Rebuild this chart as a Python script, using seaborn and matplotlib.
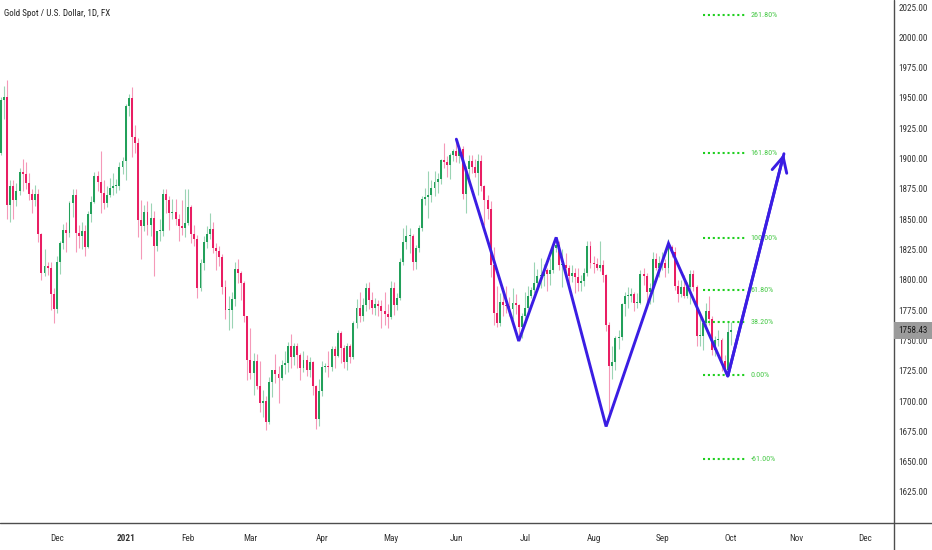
import numpy as np
import pandas as pd
import matplotlib
matplotlib.use("Agg")
import matplotlib.pyplot as plt
from matplotlib.lines import Line2D
from matplotlib.patches import Rectangle
import seaborn as sns

# ---------------- data ----------------
START_DATE = "2020-11-05"
HOLIDAYS = ["2020-12-25", "2021-01-01"]

OPEN = [1905, 1948, 1951, 1862, 1877, 1866, 1873, 1889, 1887, 1880, 1871, 1866, 1871, 1838, 1806, 1811, 1810, 1788,
        1776, 1815, 1830, 1841, 1839, 1863, 1870, 1839, 1836, 1840, 1827, 1854, 1864, 1886, 1881, 1872, 1863, 1870, 1876, 1877, 1877, 1893,
        1898, 1943, 1950, 1918, 1913, 1849, 1844, 1856, 1845, 1851, 1828, 1840, 1840, 1871, 1866, 1855, 1856, 1850, 1844, 1843,
        1847, 1860, 1838, 1834, 1793, 1814, 1831, 1838, 1842, 1826, 1824, 1819, 1794, 1775, 1775, 1784, 1809, 1806, 1797, 1770,
        1734, 1723, 1733, 1712, 1698, 1700, 1683, 1716, 1726, 1722, 1719, 1730, 1731, 1745, 1736, 1745, 1738, 1727, 1734, 1726, 1732, 1712, 1685,
        1708, 1728, 1729, 1728, 1743, 1737, 1756, 1744, 1732, 1745, 1736, 1764, 1777, 1770, 1779, 1793, 1783, 1777, 1780, 1778, 1774, 1772,
        1769, 1793, 1779, 1785, 1815, 1831, 1836, 1836, 1815, 1826, 1843, 1867, 1868, 1870, 1876, 1881, 1883, 1899, 1897, 1895, 1903,
        1906, 1902, 1908, 1871, 1891, 1898, 1893, 1888, 1898, 1877, 1866, 1858, 1812, 1773, 1764, 1782, 1779, 1778, 1776, 1781, 1779, 1761,
        1770, 1777, 1787, 1792, 1797, 1803, 1803, 1808, 1805, 1808, 1826, 1829, 1812, 1812, 1810, 1803, 1806, 1802, 1797, 1799, 1806, 1828,
        1814, 1813, 1810, 1812, 1804, 1763, 1729, 1732, 1752, 1753, 1780, 1787, 1787, 1788, 1781, 1781, 1805, 1803, 1790, 1793, 1817, 1810,
        1814, 1814, 1810, 1827, 1823, 1795, 1788, 1794, 1787, 1794, 1805, 1794, 1754, 1754, 1764, 1774, 1768, 1742, 1750, 1750, 1733, 1726,
        1757]
HIGH = [1951, 1960, 1965, 1882, 1882, 1880, 1892, 1900, 1897, 1888, 1875, 1878, 1875, 1839, 1825, 1815, 1815, 1793,
        1820, 1832, 1846, 1848, 1865, 1875, 1875, 1845, 1848, 1845, 1857, 1869, 1889, 1890, 1906, 1882, 1877, 1884, 1888, 1883, 1897, 1901,
        1945, 1953, 1959, 1928, 1917, 1866, 1862, 1865, 1863, 1857, 1840, 1850, 1875, 1875, 1869, 1867, 1867, 1854, 1866, 1875,
        1875, 1862, 1845, 1837, 1817, 1836, 1844, 1855, 1848, 1830, 1828, 1821, 1800, 1787, 1790, 1815, 1817, 1807, 1799, 1770,
        1760, 1740, 1739, 1733, 1709, 1704, 1720, 1724, 1739, 1729, 1734, 1741, 1749, 1755, 1748, 1748, 1740, 1741, 1738, 1736, 1733, 1713, 1718,
        1733, 1731, 1741, 1745, 1745, 1759, 1758, 1746, 1748, 1747, 1766, 1784, 1790, 1785, 1797, 1798, 1790, 1785, 1783, 1783, 1790, 1780,
        1799, 1798, 1789, 1818, 1843, 1845, 1843, 1838, 1829, 1845, 1869, 1876, 1890, 1882, 1890, 1888, 1900, 1913, 1902, 1905, 1908,
        1916, 1910, 1910, 1894, 1903, 1903, 1900, 1904, 1903, 1878, 1870, 1865, 1827, 1795, 1789, 1791, 1795, 1786, 1793, 1788, 1780, 1773,
        1790, 1795, 1794, 1815, 1809, 1818, 1813, 1810, 1818, 1829, 1834, 1832, 1825, 1822, 1812, 1812, 1810, 1810, 1804, 1810, 1832, 1832,
        1820, 1818, 1832, 1816, 1805, 1765, 1745, 1754, 1759, 1781, 1790, 1794, 1793, 1790, 1789, 1808, 1810, 1806, 1797, 1823, 1822, 1820,
        1823, 1817, 1834, 1829, 1827, 1800, 1800, 1804, 1798, 1808, 1808, 1796, 1770, 1767, 1781, 1787, 1770, 1754, 1759, 1752, 1738, 1765,
        1765]
LOW = [1903, 1933, 1850, 1848, 1850, 1861, 1870, 1873, 1875, 1866, 1855, 1861, 1831, 1800, 1803, 1804, 1775, 1764,
       1773, 1805, 1825, 1823, 1835, 1852, 1823, 1826, 1825, 1820, 1826, 1848, 1863, 1873, 1855, 1858, 1860, 1868, 1870, 1872, 1874, 1887,
       1882, 1935, 1901, 1905, 1835, 1817, 1840, 1837, 1836, 1803, 1824, 1832, 1836, 1855, 1841, 1850, 1845, 1832, 1837, 1835,
       1845, 1830, 1828, 1785, 1791, 1808, 1826, 1834, 1822, 1808, 1811, 1788, 1768, 1759, 1760, 1778, 1797, 1783, 1765, 1717,
       1718, 1705, 1710, 1691, 1687, 1676, 1681, 1703, 1715, 1698, 1717, 1722, 1724, 1727, 1730, 1727, 1717, 1724, 1721, 1720, 1705, 1677, 1679,
       1704, 1724, 1720, 1725, 1727, 1736, 1731, 1727, 1726, 1731, 1735, 1760, 1765, 1766, 1774, 1776, 1772, 1771, 1770, 1760, 1763, 1760,
       1768, 1771, 1775, 1783, 1812, 1825, 1822, 1808, 1809, 1823, 1840, 1862, 1851, 1864, 1869, 1872, 1879, 1892, 1885, 1883, 1898,
       1897, 1896, 1867, 1855, 1880, 1888, 1885, 1870, 1873, 1845, 1850, 1802, 1763, 1761, 1762, 1770, 1773, 1770, 1768, 1772, 1750, 1752,
       1766, 1775, 1785, 1789, 1795, 1793, 1795, 1791, 1796, 1806, 1823, 1808, 1794, 1804, 1794, 1798, 1789, 1791, 1791, 1795, 1803, 1810,
       1806, 1808, 1807, 1798, 1758, 1687, 1718, 1726, 1743, 1750, 1770, 1777, 1782, 1774, 1777, 1780, 1796, 1780, 1780, 1782, 1808, 1802,
       1808, 1802, 1806, 1819, 1792, 1782, 1786, 1785, 1785, 1780, 1791, 1745, 1745, 1742, 1761, 1763, 1738, 1737, 1745, 1725, 1722, 1721,
       1746]
CLOSE = [1948, 1951, 1862, 1877, 1866, 1873, 1889, 1887, 1880, 1871, 1866, 1871, 1838, 1806, 1811, 1810, 1788, 1776,
         1815, 1830, 1841, 1839, 1863, 1870, 1839, 1836, 1840, 1827, 1854, 1864, 1886, 1881, 1872, 1863, 1870, 1876, 1877, 1877, 1893, 1898,
         1943, 1950, 1918, 1913, 1849, 1844, 1856, 1845, 1851, 1828, 1840, 1840, 1871, 1866, 1855, 1856, 1850, 1844, 1843, 1847,
         1860, 1838, 1834, 1793, 1814, 1831, 1838, 1842, 1826, 1824, 1819, 1794, 1775, 1775, 1784, 1809, 1806, 1797, 1770, 1734,
         1723, 1733, 1712, 1698, 1700, 1683, 1716, 1726, 1722, 1719, 1730, 1731, 1745, 1736, 1745, 1738, 1727, 1734, 1726, 1732, 1712, 1685, 1708,
         1728, 1729, 1728, 1743, 1737, 1756, 1744, 1732, 1745, 1736, 1764, 1777, 1770, 1779, 1793, 1783, 1777, 1780, 1778, 1774, 1772, 1769,
         1793, 1779, 1785, 1815, 1831, 1836, 1836, 1815, 1826, 1843, 1867, 1868, 1870, 1876, 1881, 1883, 1899, 1897, 1895, 1903, 1906,
         1902, 1908, 1871, 1891, 1898, 1893, 1888, 1898, 1877, 1866, 1858, 1812, 1773, 1764, 1782, 1779, 1778, 1776, 1781, 1779, 1761, 1770,
         1777, 1787, 1792, 1797, 1803, 1803, 1808, 1805, 1808, 1826, 1829, 1812, 1812, 1810, 1803, 1806, 1802, 1797, 1799, 1806, 1828, 1814,
         1813, 1810, 1812, 1804, 1763, 1729, 1732, 1752, 1753, 1780, 1787, 1787, 1788, 1781, 1781, 1805, 1803, 1790, 1793, 1817, 1810, 1814,
         1814, 1810, 1827, 1823, 1795, 1788, 1794, 1787, 1794, 1805, 1794, 1754, 1754, 1764, 1774, 1768, 1742, 1750, 1750, 1733, 1726, 1757,
         1758.43]

LAST_PRICE = 1758.43

# Zig-zag drawing (dates, prices)
ZIG_DATES = ["2021-06-01", "2021-06-29", "2021-07-15", "2021-08-06", "2021-09-03", "2021-09-30", "2021-10-26"]
ZIG_PRICES = [1916.0, 1749.5, 1835.0, 1679.0, 1830.0, 1720.5, 1904.0]

# Fibonacci levels
FIB_LABELS = ["261.80%", "161.80%", "100.00%", "61.80%", "38.20%", "0.00%", "-61.00%"]
FIB_PRICES = [2018.4, 1904.6, 1834.5, 1791.6, 1765.2, 1721.5, 1652.2]
FIB_START, FIB_END = "2021-09-20", "2021-10-08"

Y_TICKS = [1625, 1650, 1675, 1700, 1725, 1750, 1775, 1800, 1825, 1850, 1875, 1900,
           1925, 1950, 1975, 2000, 2025]
TITLE = "Gold Spot / U.S. Dollar, 1D, FX"

# ---------------- style ----------------
sns.set_theme(style="white")
plt.rcParams["font.family"] = ["Roboto Condensed", "DejaVu Sans"]

GREEN = "#22a05a"
RED = "#e91e63"
BLUE = "#3a1de3"
FIB_GREEN = "#1fcf1f"
AXIS_COL = "#4d4d4d"
TEXT_COL = "#333333"
FS = 6.6

W, H = 932, 550
fig = plt.figure(figsize=(W / 100, H / 100), dpi=100)
fig.patch.set_facecolor("white")
ax = fig.add_axes([0, 27 / H, 893 / W, 523 / H])
ax.set_facecolor("white")

# trading-day index
days = pd.bdate_range(START_DATE, "2021-12-31")
days = days[~days.isin(pd.to_datetime(HOLIDAYS))]
pos = {d: i for i, d in enumerate(days)}

df = pd.DataFrame({"o": OPEN, "h": HIGH, "l": LOW, "c": CLOSE})
df["x"] = np.arange(len(df))
up = df["c"] >= df["o"]

# wicks
ax.vlines(df["x"][up], df["l"][up], df["h"][up], color=GREEN, alpha=0.45, lw=0.8, zorder=2)
ax.vlines(df["x"][~up], df["l"][~up], df["h"][~up], color=RED, alpha=0.45, lw=0.8, zorder=2)
# bodies
body_lo = np.minimum(df["o"], df["c"])
body_h = np.maximum(np.abs(df["c"] - df["o"]), 0.8)
ax.bar(df["x"][up], body_h[up], bottom=body_lo[up], width=0.62, color=GREEN, linewidth=0, zorder=3)
ax.bar(df["x"][~up], body_h[~up], bottom=body_lo[~up], width=0.62, color=RED, linewidth=0, zorder=3)

# zig-zag with seaborn
zig = pd.DataFrame({"x": [pos[pd.Timestamp(d)] for d in ZIG_DATES], "y": ZIG_PRICES})
sns.lineplot(data=zig, x="x", y="y", sort=False, color=BLUE, lw=2.1, ax=ax, zorder=5,
             solid_capstyle="round", solid_joinstyle="miter")
ax.annotate("", xy=(zig["x"].iloc[-1], zig["y"].iloc[-1]),
            xytext=(zig["x"].iloc[-2], zig["y"].iloc[-2]),
            arrowprops=dict(arrowstyle="->,head_length=0.9,head_width=0.45", color=BLUE, lw=2.1,
                            shrinkA=0, shrinkB=0), zorder=5)

# fib levels
fx0, fx1 = pos[pd.Timestamp(FIB_START)], pos[pd.Timestamp(FIB_END)]
for lab, p in zip(FIB_LABELS, FIB_PRICES):
    ax.plot([fx0, fx1], [p, p], color=FIB_GREEN, lw=1.5, linestyle=(0, (1.0, 1.35)), zorder=4)
    ax.text(fx1 + 1.3, p, lab, color="#46c846", fontsize=5.8, va="center", ha="left", zorder=4)

# axes limits
ax.set_xlim(-0.27, 285.96)
ax.set_ylim(1599.4, 2030.8)
ax.set_xlabel("")
ax.set_ylabel("")
for s in ax.spines.values():
    s.set_visible(False)

# y ticks on right
ax.yaxis.tick_right()
ax.set_yticks(Y_TICKS)
ax.set_yticklabels([f"{v:.2f}" for v in Y_TICKS])
ax.tick_params(axis="y", length=0, pad=4.0, labelsize=FS, labelcolor=TEXT_COL)

# x ticks at first bar of each month
dser = pd.Series(days)
firsts = dser.groupby([dser.dt.year, dser.dt.month]).first()
firsts = firsts[firsts > pd.Timestamp("2020-11-30")]
xt = [pos[d] for d in firsts]
xl = ["2021" if d.month == 1 else d.strftime("%b") for d in firsts]
ax.set_xticks(xt)
ax.set_xticklabels(xl)
ax.tick_params(axis="x", length=0, pad=8, labelsize=FS, labelcolor=TEXT_COL)
for t in ax.get_xticklabels():
    if t.get_text() == "2021":
        t.set_fontweight("bold")
ax.grid(False)

# frame lines (right price axis and bottom time axis)
fig.add_artist(Line2D([893.5 / W, 893.5 / W], [0, 1], color=AXIS_COL, lw=1.0, transform=fig.transFigure))
fig.add_artist(Line2D([0, 1], [27 / H, 27 / H], color=AXIS_COL, lw=1.0, transform=fig.transFigure))

# last price box
yb = ax.transData.transform((0, LAST_PRICE))[1] / H
fig.add_artist(Rectangle((894 / W, yb - 8.5 / H), 38 / W, 17 / H, transform=fig.transFigure,
                         facecolor="#9b9b9b", edgecolor="none", zorder=10))
fig.text(912.5 / W, yb, f"{LAST_PRICE:.2f}", ha="center", va="center", fontsize=FS,
         color="#1a1a1a", zorder=11)

# title
fig.text(4 / W, 1 - 14 / H, TITLE, ha="left", va="center", fontsize=6.5, color="#222222")

fig.savefig("out.png", dpi=100, facecolor="white")
